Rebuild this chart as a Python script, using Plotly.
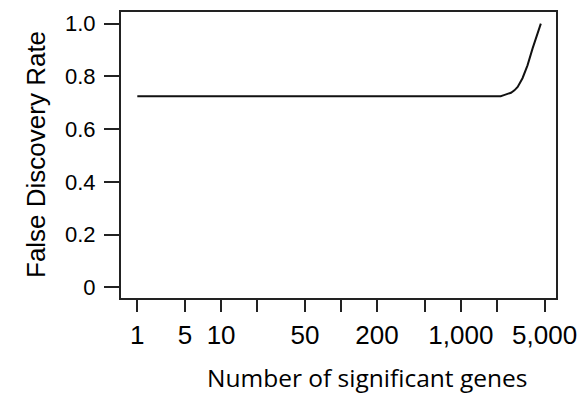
import plotly.graph_objects as go

# Data
num_genes = [2, 2150, 2290, 2450, 2620, 2800, 2980, 3270, 3600, 3970, 4310, 4650]
fdr = [0.725, 0.725, 0.729, 0.733, 0.738, 0.747, 0.760, 0.793, 0.842, 0.906, 0.956, 1.0]

x_tick_vals = [2, 5, 10, 20, 50, 100, 200, 500, 1000, 2000, 5000]
x_tick_text = ["1", "5", "10", "", "50", "", "200", "", "1,000", "", "5,000"]
y_tick_vals = [0, 0.2, 0.4, 0.6, 0.8, 1.0]
y_tick_text = ["0", "0.2", "0.4", "0.6", "0.8", "1.0"]

fig = go.Figure()
fig.add_trace(go.Scatter(
    x=num_genes, y=fdr, mode="lines",
    line=dict(color="#111", width=2),
    hoverinfo="skip", showlegend=False,
))

sans = "Liberation Sans, Arial, sans-serif"

# The page body adds an 8px offset, so the figure is 8px smaller in each direction.
fig.update_layout(
    width=580, height=386,
    margin=dict(l=113, r=32, t=4, b=96, autoexpand=False),
    paper_bgcolor="white", plot_bgcolor="white",
    xaxis=dict(
        type="log", range=[0.165, 3.794], automargin=False,
        tickmode="array", tickvals=x_tick_vals, ticktext=x_tick_text,
        ticks="outside", ticklen=12, tickwidth=2, tickcolor="#222",
        showline=True, linecolor="#222", linewidth=2, mirror=True,
        showgrid=False, zeroline=False,
        tickfont=dict(family=sans, size=26, color="black"), ticklabelstandoff=1,
    ),
    yaxis=dict(
        range=[-0.040, 1.044], automargin=False,
        tickmode="array", tickvals=y_tick_vals, ticktext=y_tick_text,
        ticksuffix="\u00a0\u00a0",
        ticks="outside", ticklen=15, tickwidth=2, tickcolor="#222",
        showline=True, linecolor="#222", linewidth=2, mirror=True,
        showgrid=False, zeroline=False,
        tickfont=dict(family=sans, size=22, color="black"), ticklabelstandoff=4,
    ),
    annotations=[
        dict(text="False Discovery Rate", xref="paper", yref="paper",
             x=0, y=0.5, xshift=-85, textangle=-90, showarrow=False,
             xanchor="center", yanchor="middle",
             font=dict(family=sans, size=26, color="black")),
        dict(text="Number of significant genes", xref="paper", yref="paper",
             x=0.566, y=0, yshift=-79, showarrow=False,
             xanchor="center", yanchor="middle",
             font=dict(family="Open Sans, sans-serif", size=24.5, color="black")),
    ],
)

fig.write_html("out.html")
